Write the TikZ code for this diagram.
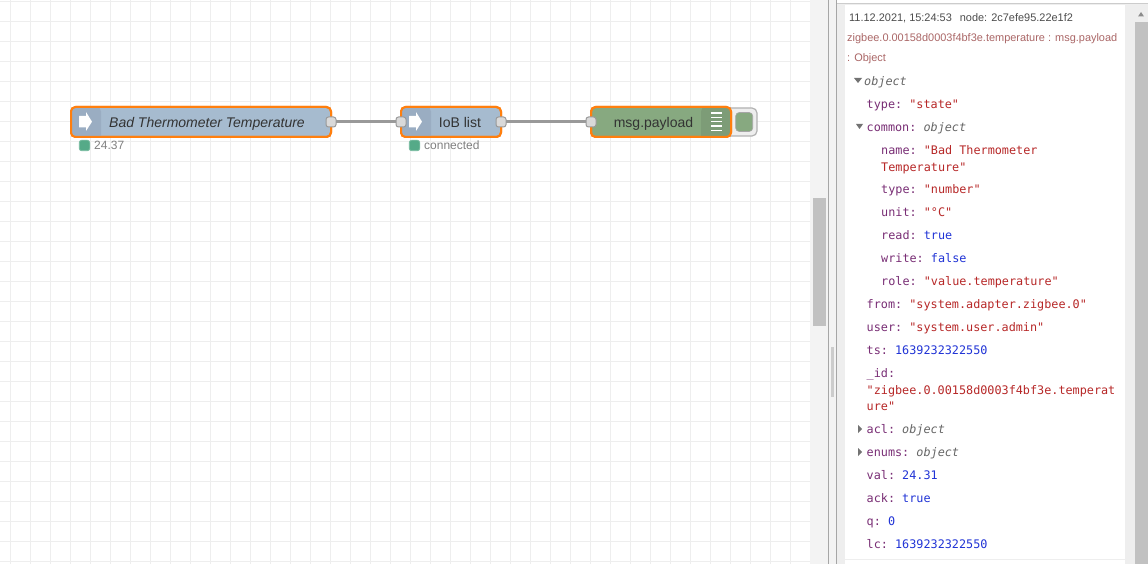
\documentclass[tikz,border=0pt]{standalone}
\usepackage{fontspec}
\setmainfont{Liberation Sans}
\setmonofont{DejaVu Sans Mono}
\definecolor{grid}{HTML}{EEEEEE}
\definecolor{inject}{HTML}{A6BBCF}
\definecolor{injectd}{HTML}{9AADC2}
\definecolor{debugc}{HTML}{87A980}
\definecolor{debugd}{HTML}{7D9C77}
\definecolor{sel}{HTML}{FF7F0E}
\definecolor{wire}{HTML}{999999}
\definecolor{portc}{HTML}{D9D9D9}
\definecolor{stat}{HTML}{55AA88}
\definecolor{keyc}{HTML}{792E75}
\definecolor{strc}{HTML}{B72828}
\definecolor{numc}{HTML}{2033D6}
\definecolor{typc}{HTML}{666666}
\definecolor{topicc}{HTML}{AA6666}
\definecolor{band}{HTML}{EEEEEE}
\definecolor{sbar}{HTML}{C1C1C1}
\newcommand\vkey[1]{\textcolor{keyc}{#1}}
\newcommand\vstr[1]{\textcolor{strc}{#1}}
\newcommand\vnum[1]{\textcolor{numc}{#1}}
\newcommand\vtyp[1]{\textcolor{typc}{\fontspec{DejaVu Sans Mono Oblique}#1}}
\tikzset{
  x=1pt,y=-1pt,
  flow/.style={draw=sel,line width=2pt,rounded corners=4.5pt,inner sep=0pt,outer sep=0pt,minimum height=30pt},
  flowin/.style={flow,fill=inject},
  flowout/.style={flow,fill=debugc},
  port/.style={draw=wire,fill=portc,line width=1pt,rounded corners=2.5pt,minimum size=10pt,inner sep=0pt,outer sep=0pt},
  wireline/.style={draw=wire,line width=3pt},
  lab/.style={text=black!80,font=\fontsize{14}{16}\selectfont,inner sep=0pt,anchor=base},
  statdot/.style={fill=stat,draw=stat!80!white,line width=.8pt,rounded corners=2.5pt,minimum size=10.5pt,inner sep=0pt},
  stattext/.style={text=black!50,font=\fontsize{12}{14}\selectfont,inner sep=0pt,anchor=base west},
  mono/.style={font=\ttfamily\fontsize{11.8}{14}\selectfont,inner sep=0pt,anchor=base west},
  head/.style={font=\fontsize{10.95}{14}\selectfont,inner sep=0pt,anchor=base west},
  tri/.style={fill=black!55},
}
\newcommand\tl[4]{\node[mono] (#1) at (#2,#3) {#4};}
\begin{document}
\begin{tikzpicture}
\useasboundingbox (0,0) rectangle (1148,564);
\fill[white] (0,0) rectangle (1148,564);
% grid
\foreach \gx in {10,30,...,810} \draw[grid,line width=1pt] (\gx,0) -- (\gx,564);
\foreach \gy in {1.5,21.5,...,561.5} \draw[grid,line width=1pt] (0,\gy) -- (810,\gy);
% side panels
\fill[band!70!white] (810,0) rectangle (828,564);
\fill[sbar] (813,198) rectangle (826,326);
\fill[band!70!white] (829,0) rectangle (836,564);
\draw[black!35,line width=1pt] (828.5,0) -- (828.5,564);
\draw[black!35,line width=1pt] (836.5,0) -- (836.5,564);
\fill[black!20] (831,347) rectangle (834,397);
\fill[band] (837,4) rectangle (1148,564);
\draw[black!20,line width=1pt] (837,3.5) -- (1148,3.5);
\fill[white] (845,5) rectangle (1125,564);
\fill[band] (1135,5) rectangle (1148,564);
\fill[sbar] (1135,22) rectangle (1148,564);
\fill[black!45] (1138,16.5) -- (1144,16.5) -- (1141,12) -- cycle;
\draw[band,line width=1pt] (845,559.5) -- (1125,559.5);
% flow nodes
\node[flowin,minimum width=260pt] (therm) at (201,122) {};
\fill[injectd] (therm.west) [rounded corners=4.5pt] -- (therm.north west) -- ([xshift=30pt]therm.north west) [sharp corners] -- ([xshift=30pt]therm.south west) [rounded corners=4.5pt] -- (therm.south west) -- cycle;
\node[flow,minimum width=260pt] (thermo) at (201,122) {};
\node[flowin,minimum width=100pt] (iob) at (451,122) {};
\fill[injectd] (iob.west) [rounded corners=4.5pt] -- (iob.north west) -- ([xshift=30pt]iob.north west) [sharp corners] -- ([xshift=30pt]iob.south west) [rounded corners=4.5pt] -- (iob.south west) -- cycle;
\node[flow,minimum width=100pt] (iobo) at (451,122) {};
% button
\draw[black!30,fill=band,line width=1.2pt,rounded corners=5pt] (725,108) -- (757,108) -- (757,136) -- (725,136);
\node[fill=debugc,draw=black!35,line width=.6pt,rounded corners=3.5pt,minimum width=17pt,minimum height=19pt,inner sep=0pt] (btn) at (744.2,122) {};
\node[flowout,minimum width=140pt] (dbg) at (661,122) {};
\fill[debugd] (dbg.east) [rounded corners=4.5pt] -- (dbg.north east) -- ([xshift=-30pt]dbg.north east) [sharp corners] -- ([xshift=-30pt]dbg.south east) [rounded corners=4.5pt] -- (dbg.south east) -- cycle;
\node[flow,minimum width=140pt] (dbgo) at (661,122) {};
% icons
\foreach \ix in {79,409} \fill[white] (\ix,116) -- (\ix+7,116) -- (\ix+7,112) -- (\ix+13,121.7) -- (\ix+7,131) -- (\ix+7,127.5) -- (\ix,127.5) -- cycle;
\foreach \iy in {112.5,116.8,121.1,125.4,129.7} \fill[white] (711,\iy) rectangle (721.5,\iy+1.3);
% wires
\node[port] (p1) at (331,122) {};
\node[port] (p2) at (401,122) {};
\node[port] (p3) at (501,122) {};
\node[port] (p4) at (591,122) {};
\draw[wireline] (p1) -- (p2);
\draw[wireline] (p3) -- (p4);
% labels
\node[lab,anchor=base west,font=\fontsize{14}{16}\selectfont\itshape] (t1) at (109,127.7) {Bad Thermometer Temperature};
\node[lab,anchor=base] (t2) at (460,127.7) {IoB list};
\node[lab,anchor=base] (t3) at (653.5,127.7) {msg.payload};
\node[statdot] (s1) at (84.5,145.5) {};
\node[stattext] (st1) at (94,150) {24.37};
\node[statdot] (s2) at (414.5,145.5) {};
\node[stattext] (st2) at (424,150) {connected};
% debug header
\node[head,text=black!70] (h1) at (849,21.7) {11.12.2021, 15:24:53\hspace{8pt}node: 2c7efe95.22e1f2};
\node[head,text=topicc] (h2) at (847,41.7) {zigbee.0.00158d0003f4bf3e.temperature : msg.payload};
\node[head,text=topicc] (h3) at (847,61.7) {: Object};
% triangles
\fill[tri] (854,78) -- (862,78) -- (858,83) -- cycle;
\fill[tri] (856,124) -- (863,124) -- (859.5,129) -- cycle;
\fill[tri] (858,425) -- (862,429) -- (858,433) -- cycle;
\fill[tri] (858,448) -- (862,452) -- (858,456) -- cycle;
% debug tree
\tl{d1}{864}{85.7}{\vtyp{object}}
\tl{d2}{866.5}{108.7}{\vkey{type:} \vstr{"state"}}
\tl{d3}{866.5}{131.7}{\vkey{common:} \vtyp{object}}
\tl{d4}{881}{154.7}{\vkey{name:} \vstr{"Bad Thermometer}}
\tl{d5}{881}{171.7}{\vstr{Temperature"}}
\tl{d6}{881}{193.7}{\vkey{type:} \vstr{"number"}}
\tl{d7}{881}{216}{\vkey{unit:} \vstr{"°C"}}
\tl{d8}{881}{239}{\vkey{read:} \vnum{true}}
\tl{d9}{881}{262}{\vkey{write:} \vnum{false}}
\tl{d10}{881}{285}{\vkey{role:} \vstr{"value.temperature"}}
\tl{d11}{866.5}{308}{\vkey{from:} \vstr{"system.adapter.zigbee.0"}}
\tl{d12}{866.5}{331}{\vkey{user:} \vstr{"system.user.admin"}}
\tl{d13}{866.5}{354}{\vkey{ts:} \vnum{1639232322550}}
\tl{d14}{866.5}{377}{\vkey{\_id:}}
\tl{d15}{866.5}{394}{\vstr{"zigbee.0.00158d0003f4bf3e.temperat}}
\tl{d16}{866.5}{410}{\vstr{ure"}}
\tl{d17}{866.5}{433}{\vkey{acl:} \vtyp{object}}
\tl{d18}{866.5}{456}{\vkey{enums:} \vtyp{object}}
\tl{d19}{866.5}{479}{\vkey{val:} \vnum{24.31}}
\tl{d20}{866.5}{502}{\vkey{ack:} \vnum{true}}
\tl{d21}{866.5}{525}{\vkey{q:} \vnum{0}}
\tl{d22}{866.5}{548}{\vkey{lc:} \vnum{1639232322550}}
\end{tikzpicture}
\end{document}
